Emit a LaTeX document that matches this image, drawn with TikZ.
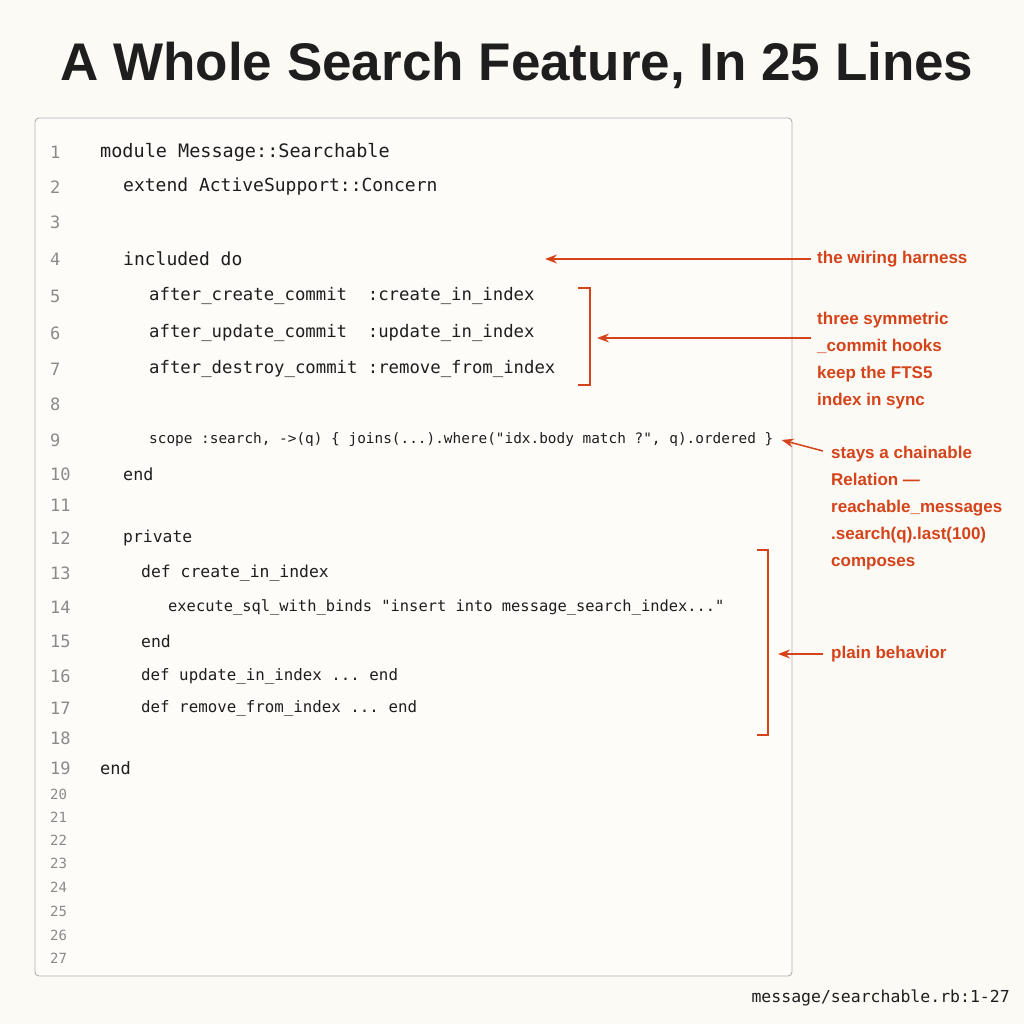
\documentclass[tikz,border=0pt]{standalone}
\usepackage{fontspec}
\setmainfont{Liberation Sans}
\setmonofont{DejaVu Sans Mono}
\usetikzlibrary{arrows.meta}
\definecolor{bg}{HTML}{FBFAF5}
\definecolor{ann}{HTML}{D4431A}
\definecolor{lnum}{HTML}{8A8A8A}
\definecolor{codec}{HTML}{1E1E1E}
\tikzset{
 ln/.style={anchor=west,text=lnum,font=\ttfamily\fontsize{17}{17}\selectfont,inner sep=0},
 lns/.style={anchor=west,text=lnum,font=\ttfamily\fontsize{14}{14}\selectfont,inner sep=0},
 code/.style={anchor=west,text=codec,inner sep=0},
 note/.style={anchor=west,text=ann,font=\bfseries\fontsize{17}{27}\selectfont,align=left,inner sep=0},
 arr/.style={draw=ann,line width=1.5pt,-{Stealth[length=12pt,width=9pt]}},
 brk/.style={draw=ann,line width=1.5pt}
}
\newcommand{\cf}[1]{\ttfamily\fontsize{#1}{#1}\selectfont}
\begin{document}
\begin{tikzpicture}[x=1pt,y=-1pt]
\fill[bg] (0,0) rectangle (1024,1024);
\useasboundingbox (0,0) rectangle (1024,1024);
\node[font=\bfseries\fontsize{53}{53}\selectfont,text=codec] (title) at (517,65) {A Whole Search Feature, In 25 Lines};
\draw[draw=gray!60,rounded corners=4pt,fill=bg!60!white,line width=0.9pt] (35,118) rectangle (792,976);
\foreach \n/\y in {1/152,2/187,3/222,4/259,5/296,6/333,7/369,8/404,9/440,10/474,11/505,12/538,13/573,14/607,15/641,16/676,17/708,18/738,19/768}
  \node[ln] (n\n) at (50,\y) {\n};
\foreach \n/\y in {20/794,21/817,22/840,23/863,24/887,25/911,26/935,27/958}
  \node[lns] (n\n) at (50,\y) {\n};
\node[code,font=\cf{18.5}] (c1) at (100,152) {module Message::Searchable};
\node[code,font=\cf{18}] (c2) at (123,187) {extend ActiveSupport::Concern};
\node[code,font=\cf{18}] (c4) at (123,259) {included do};
\node[code,font=\cf{17.3}] (c5) at (149,296) {after\_create\_commit~~:create\_in\_index};
\node[code,font=\cf{17.3}] (c6) at (149,333) {after\_update\_commit~~:update\_in\_index};
\node[code,font=\cf{17.3}] (c7) at (149,369) {after\_destroy\_commit :remove\_from\_index};
\node[code,font=\cf{14.4}] (c9) at (149,440) {scope :search, ->(q) \{ joins(...).where("idx.body match ?", q).ordered \}};
\node[code,font=\cf{16.7}] (c10) at (123,474) {end};
\node[code,font=\cf{16.4}] (c12) at (123,538) {private};
\node[code,font=\cf{16.4}] (c13) at (141,573) {def create\_in\_index};
\node[code,font=\cf{15.4}] (c14) at (168,607) {execute\_sql\_with\_binds "insert into message\_search\_index..."};
\node[code,font=\cf{16.4}] (c15) at (141,641) {end};
\node[code,font=\cf{15.8}] (c16) at (141,676) {def update\_in\_index ... end};
\node[code,font=\cf{15.8}] (c17) at (141,708) {def remove\_from\_index ... end};
\node[code,font=\cf{17}] (c19) at (100,768) {end};
% annotations
\node[note] (a1) at (817,259) {the wiring harness};
\draw[arr] (a1.west) ++(-6,0) -- (545,259);
\draw[brk] (578,288) -- (590,288) -- (590,385) -- (578,385);
\coordinate (b1) at (597,338);
\node[note,anchor=north west] (a2) at (817,312) {three symmetric\\\_commit hooks\\keep the FTS5\\index in sync};
\draw[arr] (811,338) -- (b1);
\node[note,anchor=north west] (a3) at (831,446) {stays a chainable\\Relation —\\reachable\_messages\\.search(q).last(100)\\composes};
\draw[arr] (823,451) -- ([xshift=8pt]c9.east);
\draw[brk] (757,550) -- (768,550) -- (768,735) -- (757,735);
\node[note] (a4) at (831,654) {plain behavior};
\draw[arr] (a4.west) ++(-8,0) -- (778,654);
\node[anchor=east,inner sep=0,font=\cf{16.5},text=codec] (foot) at (1010,998) {message/searchable.rb:1-27};
\end{tikzpicture}
\end{document}
